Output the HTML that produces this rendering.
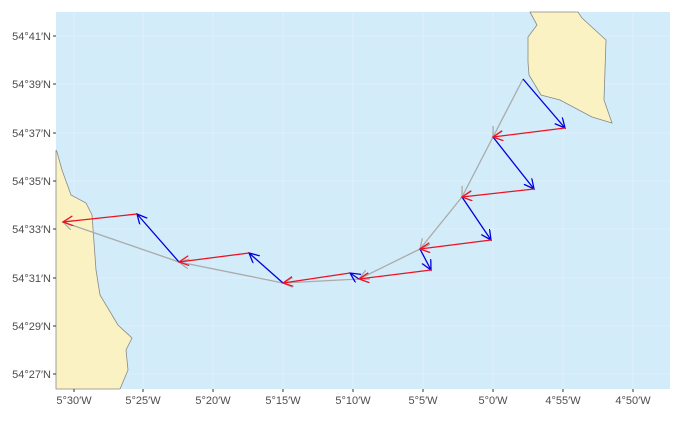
<!DOCTYPE html><html><head><style>body{margin:0;background:#fff}svg text{font-family:"Liberation Sans",sans-serif;font-size:11px;fill:#4d4d4d}</style></head><body>
<svg width="678" height="419" xmlns="http://www.w3.org/2000/svg">
<defs>
<marker id="b" markerWidth="14" markerHeight="14" refX="10" refY="5" orient="auto" markerUnits="userSpaceOnUse"><path d="M0,0 L10,5 L0,10" fill="none" stroke="#0000dd" stroke-width="1.3"/></marker>
<marker id="r" markerWidth="14" markerHeight="14" refX="10" refY="5" orient="auto" markerUnits="userSpaceOnUse"><path d="M0,0 L10,5 L0,10" fill="none" stroke="#ee1122" stroke-width="1.3"/></marker>
<marker id="g" markerWidth="14" markerHeight="14" refX="10" refY="5" orient="auto" markerUnits="userSpaceOnUse"><path d="M0,0 L10,5 L0,10" fill="none" stroke="#aaaaaa" stroke-width="1.3"/></marker>
</defs>
<rect x="56" y="12" width="614" height="377" fill="#d2ecf9"/>
<g stroke="#e4f3fb" stroke-width="0.8">
<line x1="74" y1="12" x2="74" y2="389"/><line x1="143" y1="12" x2="143" y2="389"/><line x1="213" y1="12" x2="213" y2="389"/><line x1="283" y1="12" x2="283" y2="389"/><line x1="353" y1="12" x2="353" y2="389"/><line x1="423" y1="12" x2="423" y2="389"/><line x1="493" y1="12" x2="493" y2="389"/><line x1="563" y1="12" x2="563" y2="389"/><line x1="633" y1="12" x2="633" y2="389"/>
<line x1="56" y1="36" x2="670" y2="36"/><line x1="56" y1="84" x2="670" y2="84"/><line x1="56" y1="133" x2="670" y2="133"/><line x1="56" y1="181" x2="670" y2="181"/><line x1="56" y1="229" x2="670" y2="229"/><line x1="56" y1="278" x2="670" y2="278"/><line x1="56" y1="326" x2="670" y2="326"/><line x1="56" y1="374" x2="670" y2="374"/>
</g>
<path d="M56,150 L57,152 L62,170 L71,195 L86,203 L92,215 L96,270 L100,295 L118,325 L132,338 L126,350 L128,370 L120,389 L56,389Z" fill="#fbf2c4" stroke="#888" stroke-width="0.8"/>
<path d="M530,12 L537,25 L528,37 L528,62 L529,75 L541,95 L560,100 L592,117 L612,123 L604,100 L606,40 L582,18 L578,12Z" fill="#fbf2c4" stroke="#888" stroke-width="0.8"/>
<g fill="none" stroke-width="1.3">
<g stroke="#aaaaaa" marker-end="url(#g)"><line x1="523" y1="79" x2="493" y2="137"/><line x1="493" y1="137" x2="462" y2="197"/><line x1="462" y1="197" x2="420" y2="249"/><line x1="420" y1="249" x2="359" y2="279"/><line x1="359" y1="279" x2="283" y2="283"/><line x1="283" y1="283" x2="179" y2="262"/><line x1="179" y1="262" x2="63" y2="222"/></g>
<g stroke="#0000dd" marker-end="url(#b)"><line x1="523" y1="79" x2="565" y2="128"/><line x1="493" y1="137" x2="534" y2="189"/><line x1="462" y1="197" x2="491" y2="240"/><line x1="420" y1="249" x2="431" y2="270"/><line x1="359" y1="279" x2="350" y2="273"/><line x1="283" y1="283" x2="249" y2="253"/><line x1="179" y1="262" x2="137" y2="214"/></g>
<g stroke="#ee1122" marker-end="url(#r)"><line x1="565" y1="128" x2="493" y2="137"/><line x1="534" y1="189" x2="462" y2="197"/><line x1="491" y1="240" x2="420" y2="249"/><line x1="431" y1="270" x2="359" y2="279"/><line x1="350" y1="273" x2="283" y2="283"/><line x1="249" y1="253" x2="179" y2="262"/><line x1="137" y1="214" x2="63" y2="222"/></g>
</g>
<g stroke="#333" stroke-width="1">
<line x1="53" y1="36" x2="56" y2="36"/><line x1="53" y1="84" x2="56" y2="84"/><line x1="53" y1="133" x2="56" y2="133"/><line x1="53" y1="181" x2="56" y2="181"/><line x1="53" y1="229" x2="56" y2="229"/><line x1="53" y1="278" x2="56" y2="278"/><line x1="53" y1="326" x2="56" y2="326"/><line x1="53" y1="374" x2="56" y2="374"/>
<line x1="74" y1="389" x2="74" y2="392"/><line x1="143" y1="389" x2="143" y2="392"/><line x1="213" y1="389" x2="213" y2="392"/><line x1="283" y1="389" x2="283" y2="392"/><line x1="353" y1="389" x2="353" y2="392"/><line x1="423" y1="389" x2="423" y2="392"/><line x1="493" y1="389" x2="493" y2="392"/><line x1="563" y1="389" x2="563" y2="392"/><line x1="633" y1="389" x2="633" y2="392"/>
</g>
<g text-anchor="end"><text x="51" y="40">54°41′N</text><text x="51" y="88">54°39′N</text><text x="51" y="137">54°37′N</text><text x="51" y="185">54°35′N</text><text x="51" y="233">54°33′N</text><text x="51" y="282">54°31′N</text><text x="51" y="330">54°29′N</text><text x="51" y="378">54°27′N</text></g>
<g text-anchor="middle"><text x="74" y="404">5°30′W</text><text x="143" y="404">5°25′W</text><text x="213" y="404">5°20′W</text><text x="283" y="404">5°15′W</text><text x="353" y="404">5°10′W</text><text x="423" y="404">5°5′W</text><text x="493" y="404">5°0′W</text><text x="563" y="404">4°55′W</text><text x="633" y="404">4°50′W</text></g>
</svg></body></html>
